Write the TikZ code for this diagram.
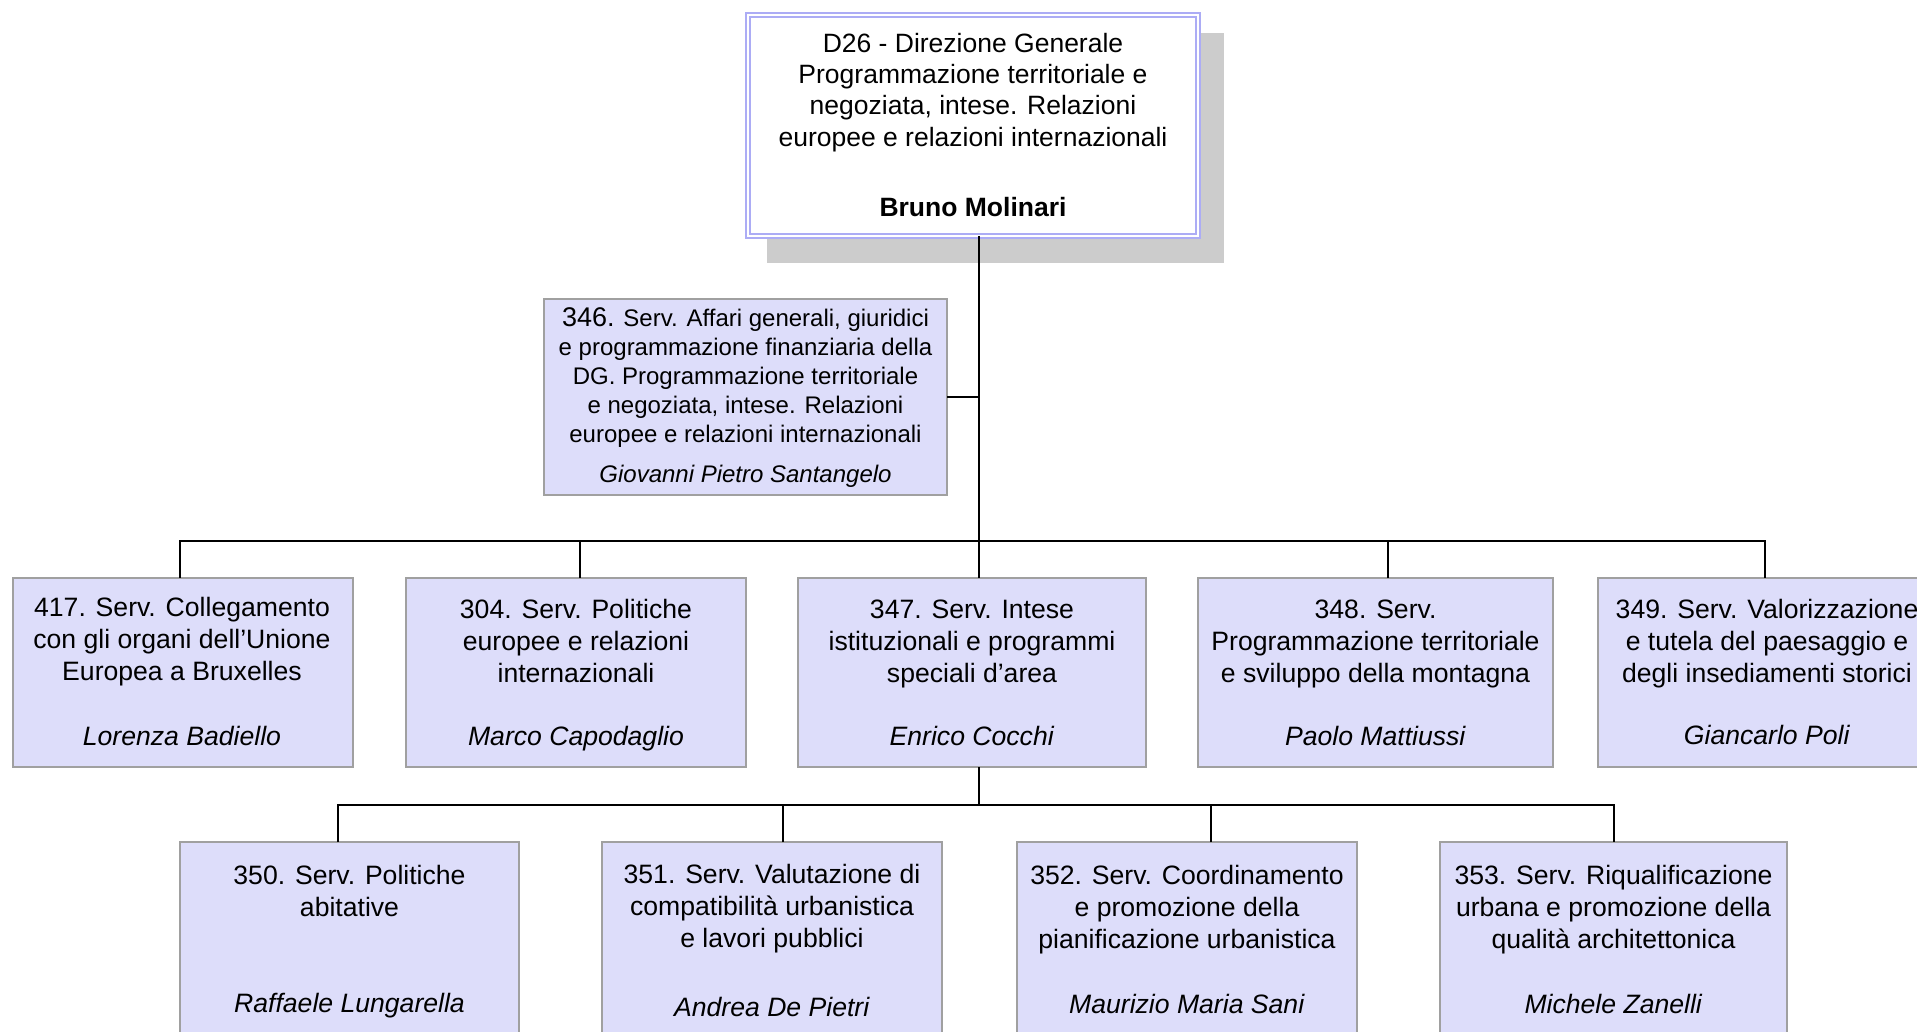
\documentclass[tikz,border=0pt]{standalone}
\usepackage{fontspec}
\setmainfont{Liberation Sans}
\definecolor{boxfill}{RGB}{221,221,250}
\definecolor{boxline}{RGB}{160,160,160}
\definecolor{topline}{RGB}{172,172,245}
\definecolor{shadowc}{RGB}{204,204,204}
\newcommand\mystrut{\rule{0pt}{25pt}}
\tikzset{
  unitbox/.style={draw=boxline, fill=boxfill, line width=1.5pt, anchor=north west, inner sep=0pt, outer sep=0pt},
  topbox/.style={draw=topline, double=white, double distance=1.5pt, line width=2.5pt, fill=white, anchor=north west, inner sep=0pt, outer sep=0pt},
  txt/.style={anchor=north, inner sep=0pt, align=center, font=\fontsize{26.6}{32}\selectfont},
  smalltxt/.style={anchor=north, inner sep=0pt, align=center, font=\fontsize{24}{29}\selectfont},
  toptxt/.style={anchor=north, inner sep=0pt, align=center, font=\fontsize{26.5}{31.3}\selectfont},
  conn/.style={draw=black, line width=1.8pt}
}
\begin{document}
\begin{tikzpicture}[x=1pt,y=-1pt]
\useasboundingbox (0,0) rectangle (1917,1032);
\clip (0,0) rectangle (1917,1032);
\fill[white] (0,0) rectangle (1917,1032);

% shadow and top box
\fill[shadowc] (767,33) rectangle (1224,263);
\node[topbox, minimum width=450pt, minimum height=221pt] (top) at (748,15) {};

% boxes
\node[unitbox, minimum width=403pt, minimum height=196pt] (n346) at (544,299) {};
\node[unitbox, minimum width=340pt, minimum height=189pt] (n417) at (13,578) {};
\node[unitbox, minimum width=340pt, minimum height=189pt] (n304) at (406,578) {};
\node[unitbox, minimum width=348pt, minimum height=189pt] (n347) at (798,578) {};
\node[unitbox, minimum width=355pt, minimum height=189pt] (n348) at (1198,578) {};
\node[unitbox, minimum width=338pt, minimum height=189pt] (n349) at (1598,578) {};
\node[unitbox, minimum width=339pt, minimum height=220pt] (n350) at (180,842) {};
\node[unitbox, minimum width=340pt, minimum height=220pt] (n351) at (602,842) {};
\node[unitbox, minimum width=340pt, minimum height=220pt] (n352) at (1017,842) {};
\node[unitbox, minimum width=347pt, minimum height=220pt] (n353) at (1440,842) {};

% texts
\node[toptxt] (ttop) at (973,27) {\mystrut D26 - Direzione Generale\\Programmazione territoriale e\\negoziata, intese. Relazioni\\europee e relazioni internazionali\\[39pt]\textbf{Bruno Molinari}};
\node[smalltxt] (t346) at (745.5,301) {\mystrut{\fontsize{27}{29}\selectfont 346.} Serv. Affari generali, giuridici\\e programmazione finanziaria della\\DG. Programmazione territoriale\\e negoziata, intese. Relazioni\\europee e relazioni internazionali\\[11pt]\textit{Giovanni Pietro Santangelo}};
\node[txt] (t417) at (182,591) {\mystrut 417. Serv. Collegamento\\con gli organi dell’Unione\\Europea a Bruxelles\\[33pt]\textit{Lorenza Badiello}};
\node[txt] (t304) at (576,593) {\mystrut 304. Serv. Politiche\\europee e relazioni\\internazionali\\[31pt]\textit{Marco Capodaglio}};
\node[txt] (t347) at (972,593) {\mystrut 347. Serv. Intese\\istituzionali e programmi\\speciali d’area\\[31pt]\textit{Enrico Cocchi}};
\node[txt] (t348) at (1375.5,593) {\mystrut 348. Serv.\\Programmazione territoriale\\e sviluppo della montagna\\[31pt]\textit{Paolo Mattiussi}};
\node[txt] (t349) at (1767,593) {\mystrut 349. Serv. Valorizzazione\\e tutela del paesaggio e\\degli insediamenti storici\\[30pt]\textit{Giancarlo Poli}};
\node[txt] (t350) at (349.5,859) {\mystrut 350. Serv. Politiche\\abitative\\[64pt]\textit{Raffaele Lungarella}};
\node[txt] (t351) at (772,858) {\mystrut 351. Serv. Valutazione di\\compatibilità urbanistica\\e lavori pubblici\\[37pt]\textit{Andrea De Pietri}};
\node[txt] (t352) at (1187,859) {\mystrut 352. Serv. Coordinamento\\e promozione della\\pianificazione urbanistica\\[33pt]\textit{Maurizio Maria Sani}};
\node[txt] (t353) at (1613.5,859) {\mystrut 353. Serv. Riqualificazione\\urbana e promozione della\\qualità architettonica\\[33pt]\textit{Michele Zanelli}};

% junctions and drop points
\coordinate (b1) at (979,541);
\coordinate (b2) at (979,805);
\coordinate (d417) at (180,578);
\coordinate (d304) at (580,578);
\coordinate (d347) at (979,578);
\coordinate (d348) at (1388,578);
\coordinate (d349) at (1765,578);
\coordinate (d350) at (338,842);
\coordinate (d351) at (783,842);
\coordinate (d352) at (1211,842);
\coordinate (d353) at (1614,842);

% connectors
\draw[conn] (top.south -| b1) -- (b1);
\draw[conn] (n346.east) -- (n346.east -| b1);
\draw[conn] (d417) -- (d417 |- b1) -- (d349 |- b1) -- (d349);
\draw[conn] (d304) -- (d304 |- b1);
\draw[conn] (b1) -- (d347);
\draw[conn] (d348) -- (d348 |- b1);
\draw[conn] (n347.south -| b2) -- (b2);
\draw[conn] (d350) -- (d350 |- b2) -- (d353 |- b2) -- (d353);
\draw[conn] (d351) -- (d351 |- b2);
\draw[conn] (d352) -- (d352 |- b2);
\end{tikzpicture}
\end{document}
